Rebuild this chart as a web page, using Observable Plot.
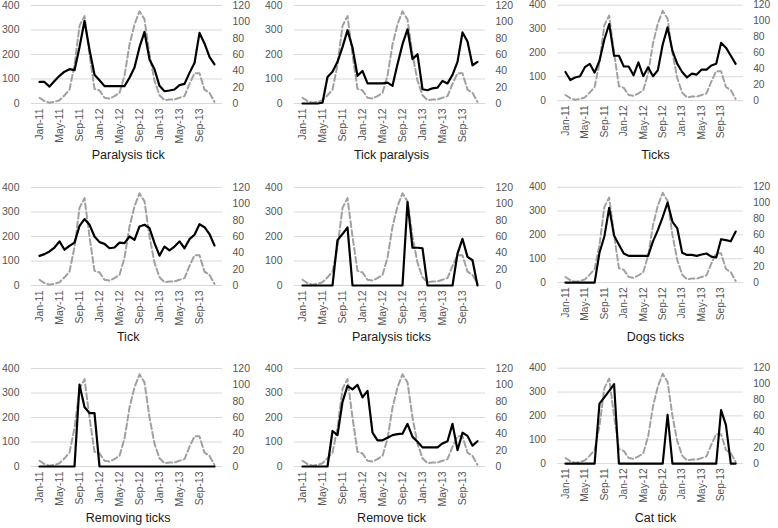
<!DOCTYPE html>
<html><head><meta charset="utf-8">
<script src="https://cdn.jsdelivr.net/npm/d3@7"></script>
<script src="https://cdn.jsdelivr.net/npm/@observablehq/plot@0.6"></script>
<style>
html,body{margin:0;padding:0;background:#fff;overflow:hidden;}
#root{position:relative;width:778px;height:528px;overflow:hidden;font-family:"Liberation Sans",Arial,sans-serif;}
.panel{position:absolute;}
.title{position:absolute;width:200px;text-align:center;font-size:12.5px;line-height:16px;color:#1a1a1a;white-space:nowrap;}
</style></head><body><div id="root"></div>
<script>
const months = ["Jan-11","Feb-11","Mar-11","Apr-11","May-11","Jun-11","Jul-11","Aug-11","Sep-11","Oct-11","Nov-11","Dec-11",
  "Jan-12","Feb-12","Mar-12","Apr-12","May-12","Jun-12","Jul-12","Aug-12","Sep-12","Oct-12","Nov-12","Dec-12",
  "Jan-13","Feb-13","Mar-13","Apr-13","May-13","Jun-13","Jul-13","Aug-13","Sep-13","Oct-13","Nov-13","Dec-13"];
const tickMonths = ["Jan-11","May-11","Sep-11","Jan-12","May-12","Sep-12","Jan-13","May-13","Sep-13"];
const leftTicks = [0,100,200,300,400];
const rightTicks = [0,20,40,60,80,100,120];

// gray dashed series (right axis), same in every panel
const caseCounts = [7,3,1,2,4,10,17,47,95,107,60,18,16,7,6,9,13,34,72,97,113,103,60,28,10,4,5,5,7,9,24,37,37,17,13,2];

const titles = ["Paralysis tick","Tick paralysis","Ticks","Tick","Paralysis ticks","Dogs ticks","Removing ticks","Remove tick","Cat tick"];
const paralysisTick = [88,88,69,92,113,130,140,136,230,337,220,117,95,71,71,71,71,71,105,147,230,292,180,140,72,50,53,57,75,80,125,165,288,245,190,160];
const tickParalysis = [0,0,0,0,3,108,130,170,230,299,228,113,133,82,82,82,82,85,72,160,242,303,181,201,58,54,62,65,92,82,117,170,290,253,156,170];
const ticks = [120,86,97,102,140,154,117,167,256,321,188,188,143,143,106,160,102,140,102,127,235,307,208,154,120,97,113,109,130,130,147,154,242,222,188,154];
const tick = [121,128,139,155,180,146,162,175,243,271,248,200,177,170,152,155,175,173,200,186,241,248,234,173,122,159,143,159,180,152,189,207,250,238,210,163];
const paralysisTicks = [0,0,0,0,0,0,0,185,210,237,0,0,0,0,0,0,0,0,0,0,0,340,154,154,152,0,0,0,0,0,0,130,190,117,103,0];
const dogsTicks = [0,0,0,0,0,0,0,125,193,314,197,159,122,112,112,112,112,112,173,220,275,336,255,227,125,116,116,112,118,122,109,105,182,178,173,214];
const removingTicks = [0,0,0,0,0,0,0,0,334,243,218,218,0,0,0,0,0,0,0,0,0,0,0,0,0,0,0,0,0,0,0,0,0,0,0,0];
const removeTick = [0,0,0,0,0,0,145,128,264,329,315,333,282,309,138,107,107,117,128,132,134,174,121,101,78,78,78,78,94,103,174,67,138,125,85,103];
const catTick = [0,0,0,0,0,0,0,251,278,305,333,0,0,0,0,0,0,0,0,0,0,204,0,0,0,0,0,0,0,0,0,0,224,161,0,0];
const seriesList = [paralysisTick,tickParalysis,ticks,tick,paralysisTicks,dogsTicks,removingTicks,removeTick,catTick];

const LEFT_MAX = 400, RIGHT_MAX = 120;
const plotLefts = [30.7, 294, 558];
const plotTops = [5, 187, 368];
const PW = 191, PH = 98, ML = 31, MR = 36, MT = 10, MB = 40;
const root = document.getElementById("root");

seriesList.forEach((series, i) => {
  const r = Math.floor(i / 3), c = i % 3;
  const data = months.map((m, j) => ({month: m, searches: series[j], cases: caseCounts[j]}));
  const chart = Plot.plot({
    width: ML + PW + MR, height: MT + PH + MB,
    marginLeft: ML, marginRight: MR, marginTop: MT, marginBottom: MB,
    style: {background: "transparent", overflow: "visible", fontFamily: "'Liberation Sans', Arial, sans-serif", fontSize: "10.5px", color: "#555555"},
    x: {type: "point", domain: months, padding: 0.5},
    y: {domain: [0, LEFT_MAX]},
    marks: [
      Plot.gridY(leftTicks, {stroke: "#d9d9d9", strokeOpacity: 1, strokeWidth: 1}),
      Plot.axisY(leftTicks, {anchor: "left", tickSize: 0, tickPadding: 12, label: null, fontSize: 10.5}),
      Plot.axisY(rightTicks.map(v => v * LEFT_MAX / RIGHT_MAX), {anchor: "right", tickSize: 0, tickPadding: 10, label: null, fontSize: 10.5,
        tickFormat: v => String(Math.round(v * RIGHT_MAX / LEFT_MAX))}),
      Plot.axisX(tickMonths, {anchor: "bottom", tickSize: 0, tickPadding: 5, tickRotate: -90, label: null, fontSize: 10.5}),
      Plot.lineY(data, {x: "month", y: d => d.cases * LEFT_MAX / RIGHT_MAX, stroke: "#a0a0a0", strokeWidth: 2, strokeDasharray: "6,3"}),
      Plot.lineY(data, {x: "month", y: "searches", stroke: "#000", strokeWidth: 2.2, strokeLinejoin: "round"})
    ]
  });
  const wrap = document.createElement("div");
  wrap.className = "panel";
  wrap.style.left = (plotLefts[c] - ML) + "px";
  wrap.style.top = (plotTops[r] - MT) + "px";
  wrap.appendChild(chart);
  root.appendChild(wrap);
  const t = document.createElement("div");
  t.className = "title";
  t.textContent = titles[i];
  t.style.left = (plotLefts[c] + PW / 2 + 2 - 100) + "px";
  t.style.top = (plotTops[r] + PH + 52 - 8) + "px";
  root.appendChild(t);
});
</script>
</body></html>
